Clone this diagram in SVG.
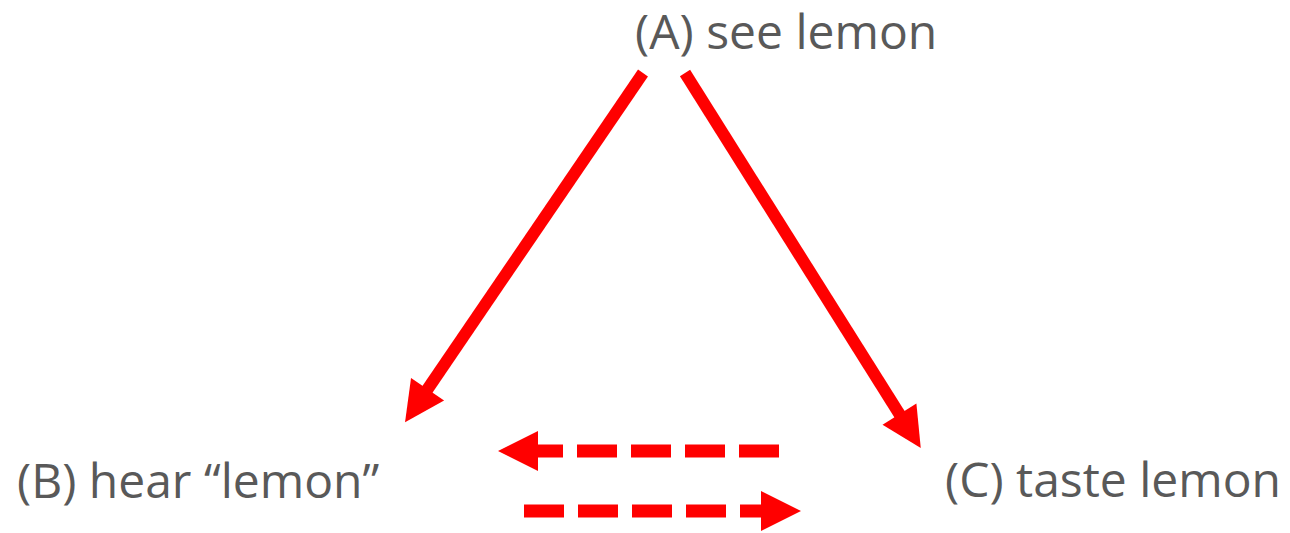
<svg xmlns="http://www.w3.org/2000/svg" width="1290" height="533" viewBox="0 0 1290 533">
<style>
.lbl{font-family:"Open Sans","Noto Sans","Liberation Sans",sans-serif;font-size:48px;fill:#595959}
.arr{stroke:#ff0000;stroke-width:12;fill:none;stroke-linecap:butt;marker-end:url(#head)}
.dash{stroke-width:13;stroke-dasharray:40 14}
</style>
<defs>
<marker id="head" markerUnits="userSpaceOnUse" markerWidth="40" markerHeight="40" refX="1" refY="20" orient="auto" overflow="visible">
<path d="M0,0 L40,20 L0,40 Z" fill="#ff0000"/>
</marker>
</defs>
<rect width="1290" height="533" fill="#ffffff"/>
<g id="nodeA"><text class="lbl" x="635" y="49">(A) see lemon</text></g>
<g id="nodeB"><text class="lbl" x="17" y="498">(B) hear “lemon”</text></g>
<g id="nodeC"><text class="lbl" x="945" y="497">(C) taste lemon</text></g>
<g id="connectors">
<line class="arr" x1="643" y1="73" x2="427" y2="390"/>
<line class="arr" x1="685" y1="73" x2="900" y2="415"/>
<line class="arr dash" x1="779" y1="451" x2="537" y2="451"/>
<line class="arr dash" x1="524" y1="511" x2="762" y2="511"/>
</g>
</svg>
